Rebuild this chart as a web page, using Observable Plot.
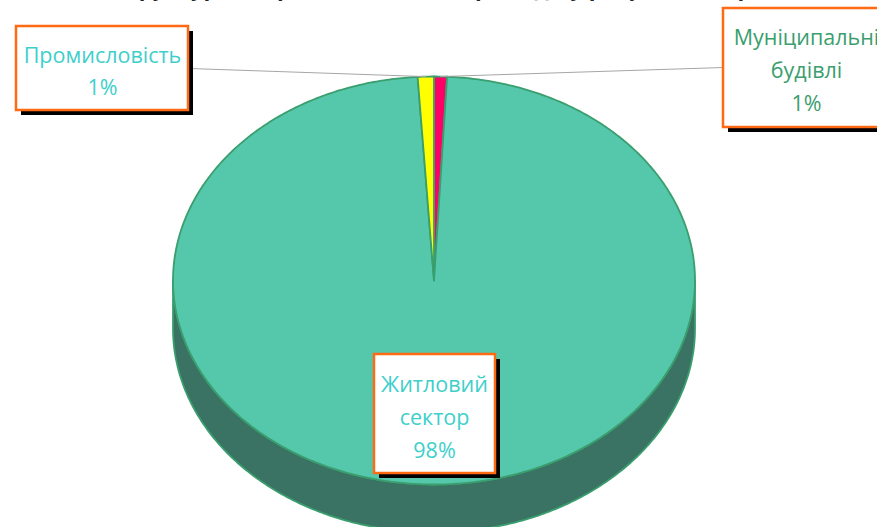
<!DOCTYPE html>
<html>
<head>
<meta charset="utf-8">
<script src="https://cdn.jsdelivr.net/npm/d3@7"></script>
<script src="https://cdn.jsdelivr.net/npm/@observablehq/plot@0.6"></script>
<style>
  html, body { margin: 0; padding: 0; background: #fff; overflow: hidden; }
  #chart svg { display: block; }
</style>
</head>
<body>
<div id="chart"></div>
<script>
// ---- data ----
const categories = ["Муніципальні будівлі", "Житловий сектор", "Промисловість"];
const shares = [0.8, 98.2, 1.0];
const titleText = "Структура енергоспоживання громади у розрізі секторів (%)";

// ---- styles / layout (not data) ----
const sliceColors = ["#FF0066", "#55C7AB", "#FFFF00"];
const labelColors = ["#3A9E6E", "#3ECFCB", "#3ECFCB"];
const W = 877, H = 527;
const cx = 433.5, cy = 280, rx = 261, ry = 204, depth = 48;
const labelBoxes = [
  {x1: 723, x2: 885, y1: 8, y2: 127, tx: 806, ty: 67, lx: 723},
  {x1: 374, x2: 495, y1: 354, y2: 473, tx: 434, ty: 414, lx: null},
  {x1: 16, x2: 188, y1: 26, y2: 110, tx: 102, ty: 68, lx: 189}
];

// ---- geometry from values ----
const total = d3.sum(shares);
let acc = 0;
const slices = categories.map((c, i) => {
  const a0 = acc / total * 2 * Math.PI;
  acc += shares[i];
  const a1 = acc / total * 2 * Math.PI;
  return {cat: c, value: shares[i], a0, a1, i};
});
const px = a => cx + rx * Math.sin(a);
const py = a => cy - ry * Math.cos(a);

function arcPts(a0, a1, off = 0) {
  const n = Math.max(2, Math.ceil((Math.abs(a1 - a0)) / 0.01));
  return d3.range(n + 1).map(k => {
    const a = a0 + (a1 - a0) * k / n;
    return {x: px(a), y: py(a) + off};
  });
}

// side wall (front half, from east through south to west)
const sideTop = arcPts(Math.PI / 2, 3 * Math.PI / 2, 0);
const sideBot = arcPts(3 * Math.PI / 2, Math.PI / 2, depth);
const side = [...sideTop, ...sideBot];

const sliceMarks = slices.map(s => {
  const pts = [{x: cx, y: cy}, ...arcPts(s.a0, s.a1), {x: cx, y: cy}];
  return Plot.line(pts, {x: "x", y: "y", fill: sliceColors[s.i], stroke: "#3A9E6E",
    strokeWidth: 1.8, curve: "linear-closed", strokeLinejoin: "round"});
});

// leader lines
const leaders = [];
slices.forEach(s => {
  const b = labelBoxes[s.i];
  if (b.lx == null) return;
  const am = (s.a0 + s.a1) / 2;
  leaders.push({id: s.i, x: b.lx, y: b.ty});
  leaders.push({id: s.i, x: px(am), y: py(am)});
});

const labelData = slices.map(s => {
  const b = labelBoxes[s.i];
  const words = s.cat.split(" ");
  return {...b, text: words.join("\n") + "\n" + Math.round(s.value / total * 100) + "%",
    color: labelColors[s.i], n: words.length + 1};
});

const font = "'Open Sans', 'Noto Sans', sans-serif";

const chart = Plot.plot({
  width: W, height: H,
  margin: 0,
  x: {type: "identity", axis: null},
  y: {type: "identity", axis: null},
  style: {background: "#fff", overflow: "hidden", fontFamily: font},
  marks: [
    Plot.text([titleText], {x: 462, y: -12, text: d => d, fontSize: 22, fontWeight: "bold",
      fill: "#262626", lineAnchor: "middle", fontFamily: font}),
    Plot.line(side, {x: "x", y: "y", fill: "#3A7263", stroke: "#3A9E6E", strokeWidth: 1.8,
      curve: "linear-closed"}),
    ...sliceMarks,
    Plot.line(leaders, {x: "x", y: "y", z: "id", stroke: "#A6A6A6", strokeWidth: 1}),
    Plot.rect(labelData, {x1: d => d.x1 + 5, x2: d => d.x2 + 5, y1: d => d.y1 + 5, y2: d => d.y2 + 5, fill: "#000"}),
    Plot.rect(labelData, {x1: "x1", x2: "x2", y1: "y1", y2: "y2", fill: "#fff", stroke: "#FF6A13", strokeWidth: 2.5}),
    Plot.text(labelData, {x: "tx", y: "ty", text: "text", fill: "color", fontSize: 21.5,
      lineHeight: 1.52, lineAnchor: "middle", fontFamily: font})
  ]
});
document.getElementById("chart").append(chart);
</script>
</body>
</html>
